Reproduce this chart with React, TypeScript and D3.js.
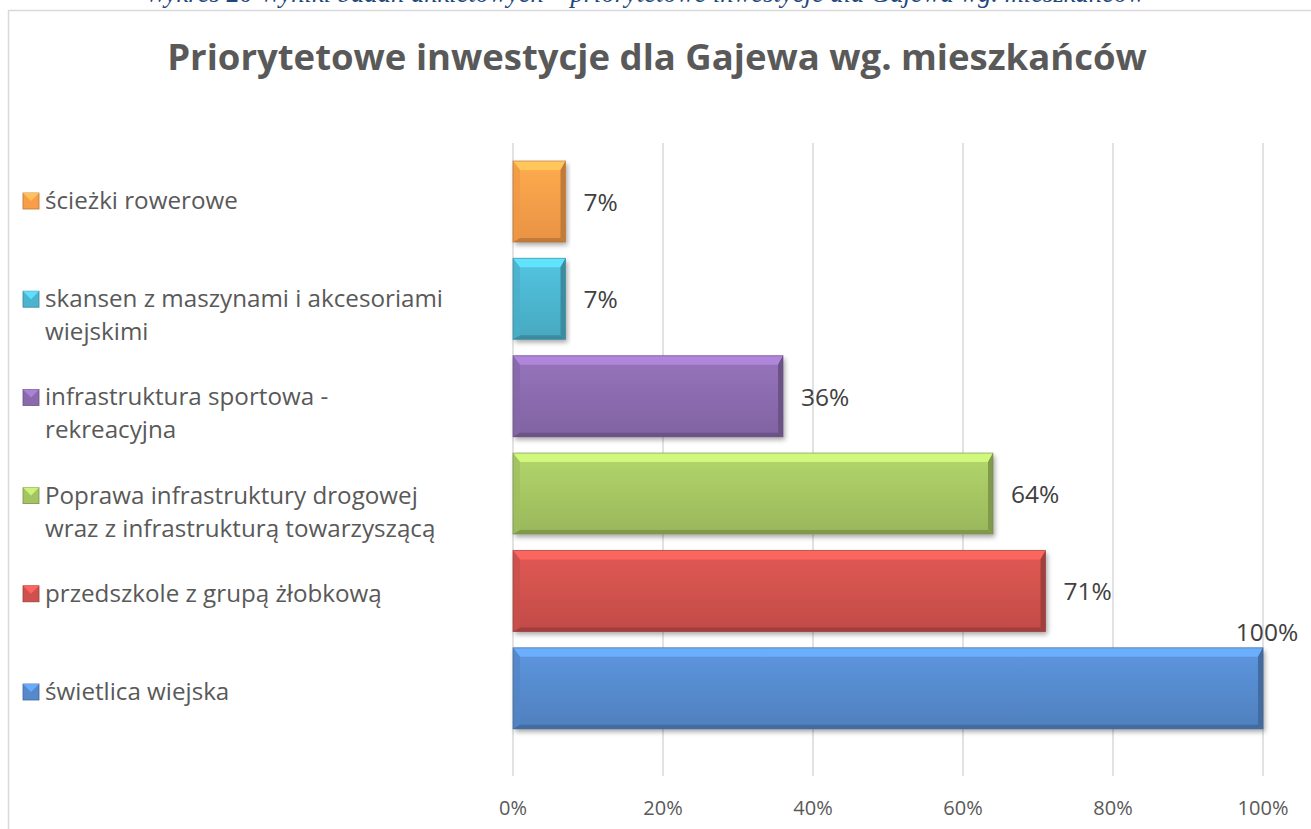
import React from "react";
import * as d3 from "d3";

const categories = [
  "ścieżki rowerowe",
  "skansen z maszynami i akcesoriami wiejskimi",
  "infrastruktura sportowa - rekreacyjna",
  "Poprawa infrastruktury drogowej wraz z infrastrukturą towarzyszącą",
  "przedszkole z grupą żłobkową",
  "świetlica wiejska",
];
const values = [0.07, 0.07, 0.36, 0.64, 0.71, 1.0];
const legendLines = [
  ["ścieżki rowerowe"],
  ["skansen z maszynami i akcesoriami", "wiejskimi"],
  ["infrastruktura sportowa -", "rekreacyjna"],
  ["Poprawa infrastruktury drogowej", "wraz z infrastrukturą towarzyszącą"],
  ["przedszkole z grupą żłobkową"],
  ["świetlica wiejska"],
];
const colors = ["#F99D48", "#4CB4CE", "#8A6AAD", "#A4C462", "#CF514D", "#5589CC"];
const xTicks = [0, 0.2, 0.4, 0.6, 0.8, 1.0];

const title = "Priorytetowe inwestycje dla Gajewa wg. mieszkańców";
const caption = "Wykres 20 Wyniki badań ankietowych – priorytetowe inwestycje dla Gajewa wg. mieszkańców";

const FONT = "'Open Sans', 'DejaVu Sans', sans-serif";

export default function App() {
  const W = 1311;
  const H = 829;
  const x = d3.scaleLinear().domain([0, 1]).range([513, 1263]);
  const y = d3
    .scaleBand<string>()
    .domain(categories)
    .range([152.8, 737])
    .paddingInner(0.168)
    .paddingOuter(0.084);
  const legendY = d3.scalePoint<string>().domain(categories).range([193, 684]);
  const pct = d3.format(".0%");
  const gridTop = 143;
  const gridBottom = 776;

  return (
    <svg
      width={W}
      height={H}
      style={{ position: "absolute", left: 0, top: 0, display: "block", background: "#fff" }}
    >
      <defs>
        <filter id="shadow" x="-10%" y="-20%" width="120%" height="160%">
          <feDropShadow dx="2" dy="3" stdDeviation="2.5" floodColor="#000" floodOpacity="0.35" />
        </filter>
        {colors.map((c, i) => {
          const base = d3.color(c)!;
          return (
            <linearGradient key={i} id={`g${i}`} x1="0" y1="0" x2="0" y2="1">
              <stop offset="0" stopColor={base.brighter(0.25).formatHex()} />
              <stop offset="1" stopColor={base.darker(0.2).formatHex()} />
            </linearGradient>
          );
        })}
      </defs>

      {/* caption (cut off at top) */}
      <text
        x={145}
        y={2}
        fontFamily="'Liberation Serif', serif"
        fontStyle="italic"
        fontSize={27}
        fill="#1F497D"
        textLength={1000}
        lengthAdjust="spacingAndGlyphs"
      >
        {caption}
      </text>

      {/* frame */}
      <rect x={8.5} y={10.5} width={W + 20} height={H + 20} fill="#fff" stroke="#d9d9d9" strokeWidth={1.5} />

      {/* title */}
      <text
        x={657}
        y={70}
        textAnchor="middle"
        fontFamily={FONT}
        fontWeight="bold"
        fontSize={36.5}
        fill="#595959"
      >
        {title}
      </text>

      {/* gridlines */}
      {xTicks.map((t) => (
        <line
          key={t}
          x1={x(t)}
          x2={x(t)}
          y1={gridTop}
          y2={gridBottom}
          stroke="#d9d9d9"
          strokeWidth={1.5}
        />
      ))}

      {/* x axis labels */}
      {xTicks.map((t) => (
        <text
          key={t}
          x={x(t)}
          y={807}
          textAnchor="middle"
          dominantBaseline="central"
          fontFamily={FONT}
          fontSize={20}
          fill="#595959"
        >
          {pct(t)}
        </text>
      ))}

      {/* bars */}
      {categories.map((cat, i) => {
        const x0 = x(0);
        const x1 = x(values[i]);
        const y0 = y(cat)!;
        const y1 = y0 + y.bandwidth();
        const base = d3.color(colors[i])!;
        const bt = 9, bb = 4, bl = 7, br = 5;
        const pts = (arr: number[][]) => arr.map((p) => p.join(",")).join(" ");
        return (
          <g key={cat}>
            <rect x={x0} y={y0} width={x1 - x0} height={y1 - y0} fill={`url(#g${i})`} filter="url(#shadow)" />
            <polygon
              points={pts([[x0, y0], [x1, y0], [x1 - br, y0 + bt], [x0 + bl, y0 + bt]])}
              fill={base.brighter(0.7).formatHex()}
              opacity={0.9}
            />
            <polygon
              points={pts([[x0, y1], [x1, y1], [x1 - br, y1 - bb], [x0 + bl, y1 - bb]])}
              fill={base.darker(0.7).formatHex()}
            />
            <polygon
              points={pts([[x0, y0], [x0 + bl, y0 + bt], [x0 + bl, y1 - bb], [x0, y1]])}
              fill={base.darker(0.1).formatHex()}
              opacity={0.7}
            />
            <polygon
              points={pts([[x1, y0], [x1 - br, y0 + bt], [x1 - br, y1 - bb], [x1, y1]])}
              fill={base.darker(0.7).formatHex()}
            />
            <rect
              x={x0}
              y={y0}
              width={x1 - x0}
              height={y1 - y0}
              fill="none"
              stroke={base.darker(0.9).formatHex()}
              strokeWidth={1}
              strokeOpacity={0.6}
            />
          </g>
        );
      })}

      {/* data labels */}
      {categories.map((cat, i) => {
        const v = values[i];
        const inside = v >= 0.95;
        const lx = inside ? x(v) + 4 : x(v) + 18;
        const ly = inside ? y(cat)! - 16 : y(cat)! + y.bandwidth() / 2;
        return (
          <text
            key={cat}
            x={lx}
            y={ly}
            textAnchor={inside ? "middle" : "start"}
            dominantBaseline="central"
            fontFamily={FONT}
            fontSize={24.5}
            fill="#404040"
          >
            {pct(v)}
          </text>
        );
      })}

      {/* legend */}
      {categories.map((cat, i) => {
        const ly = legendY(cat)!;
        const base = d3.color(colors[i])!;
        return (
          <g key={cat}>
            <rect x={23} y={ly} width={16} height={16} fill={colors[i]} stroke={base.darker(0.8).formatHex()} strokeWidth={0.8} />
            <polygon
              points={`23,${ly} 39,${ly} 31,${ly + 8}`}
              fill={base.brighter(0.6).formatHex()}
            />
            {legendLines[i].map((line, j) => (
              <text
                key={j}
                x={45}
                y={ly + 16 + j * 33}
                fontFamily={FONT}
                fontSize={24.2}
                fill="#595959"
              >
                {line}
              </text>
            ))}
          </g>
        );
      })}
    </svg>
  );
}
